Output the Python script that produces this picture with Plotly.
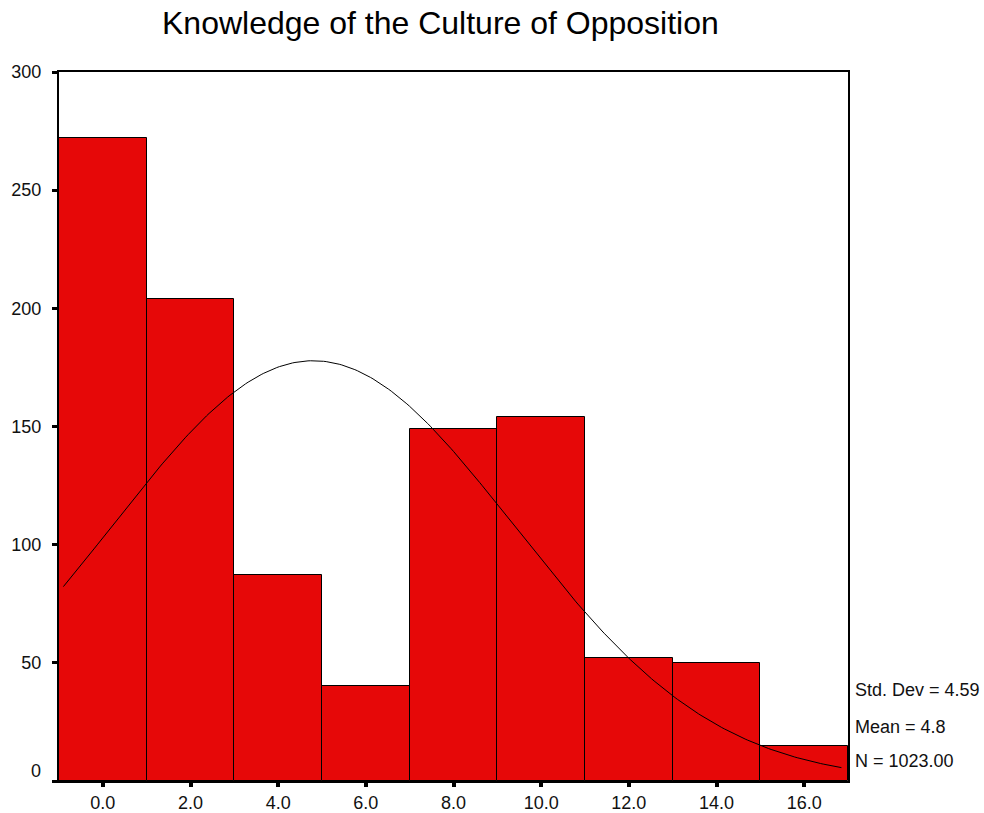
import numpy as np
import plotly.graph_objects as go

# Data
bin_centers = [0, 2, 4, 6, 8, 10, 12, 14, 16]
counts = [272, 204, 87, 40, 149, 154, 52, 50, 15]
bin_width = 2
tick_vals = [0, 2, 4, 6, 8, 10, 12, 14, 16]
tick_text = ["0.0", "2.0", "4.0", "6.0", "8.0", "10.0", "12.0", "14.0", "16.0"]
y_ticks = [0, 50, 100, 150, 200, 250, 300]
y_tick_text = ["", "50", "100", "150", "200", "250", "300"]

# Summary statistics shown on the chart (define the fitted normal curve)
MEAN = 4.8
STD_DEV = 4.59
N = 1023
title = "Knowledge of the Culture of Opposition"
stats_lines = ["Std. Dev = 4.59", "Mean = 4.8", "N = 1023.00"]

FONT = "Liberation Sans, Arial, sans-serif"

fig = go.Figure()
fig.add_trace(go.Bar(
    x=bin_centers, y=counts, width=bin_width,
    marker=dict(color="#E60808", line=dict(color="#000000", width=1)),
    hoverinfo="x+y", showlegend=False,
))

xc = np.linspace(-0.9, 16.85, 300)
yc = N * bin_width / (STD_DEV * np.sqrt(2 * np.pi)) * np.exp(-0.5 * ((xc - MEAN) / STD_DEV) ** 2)
fig.add_trace(go.Scatter(
    x=xc, y=yc, mode="lines",
    line=dict(color="#000000", width=1),
    showlegend=False, hoverinfo="skip",
))

W, H = 984, 813
PX_L, PX_R, PX_T, PX_B = 59, 848, 72, 781   # target plot area on screen
L, R, T, B = PX_L, W - PX_R, PX_T, H - PX_B

fig.update_layout(
    width=W, height=H, autosize=False,
    margin=dict(l=L, r=R, t=T, b=B, autoexpand=False),
    paper_bgcolor="white", plot_bgcolor="white",
    bargap=0,
    font=dict(family=FONT, color="#111111", size=18),
    xaxis=dict(
        range=[-1, 17], tickmode="array", tickvals=tick_vals, ticktext=tick_text,
        ticks="outside", ticklen=4, tickwidth=4, tickcolor="black",
        showline=True, linecolor="black", linewidth=2, mirror=True,
        showgrid=False, zeroline=False, tickfont=dict(size=18),
        automargin=False,
    ),
    yaxis=dict(
        range=[0, 300], tickmode="array", tickvals=y_ticks, ticktext=y_tick_text,
        ticks="outside", ticklen=5, tickwidth=3, tickcolor="black",
        showline=True, linecolor="black", linewidth=2, mirror=True,
        showgrid=False, zeroline=False, tickfont=dict(size=18),
        ticklabelstandoff=7, automargin=False,
    ),
)

def px_to_paper_x(px):
    return (px - PX_L) / (PX_R - PX_L)
def px_to_paper_y(py):
    return (PX_B - py) / (PX_B - PX_T)

fig.add_annotation(text=title, x=px_to_paper_x(440), y=px_to_paper_y(23),
                   xref="paper", yref="paper", showarrow=False,
                   xanchor="center", yanchor="middle",
                   font=dict(size=32, family=FONT, color="black"))
# zero label sits slightly above its tick, as in the original
fig.add_annotation(text="0", x=0, xref="paper", y=0, yref="y",
                   xanchor="right", yanchor="middle", showarrow=False,
                   xshift=-16, yshift=10,
                   font=dict(size=18, family=FONT, color="#111111"))
for line, py in zip(stats_lines, [690, 727, 761]):
    fig.add_annotation(text=line, x=px_to_paper_x(853), y=px_to_paper_y(py),
                       xref="paper", yref="paper", showarrow=False,
                       xanchor="left", yanchor="middle",
                       font=dict(size=18, family=FONT, color="#111111"))

# remove the browser's default page margin so the figure sits at (0, 0)
fig.write_html("out.html", config={"displayModeBar": False},
               post_script="document.body.style.margin='0';")
